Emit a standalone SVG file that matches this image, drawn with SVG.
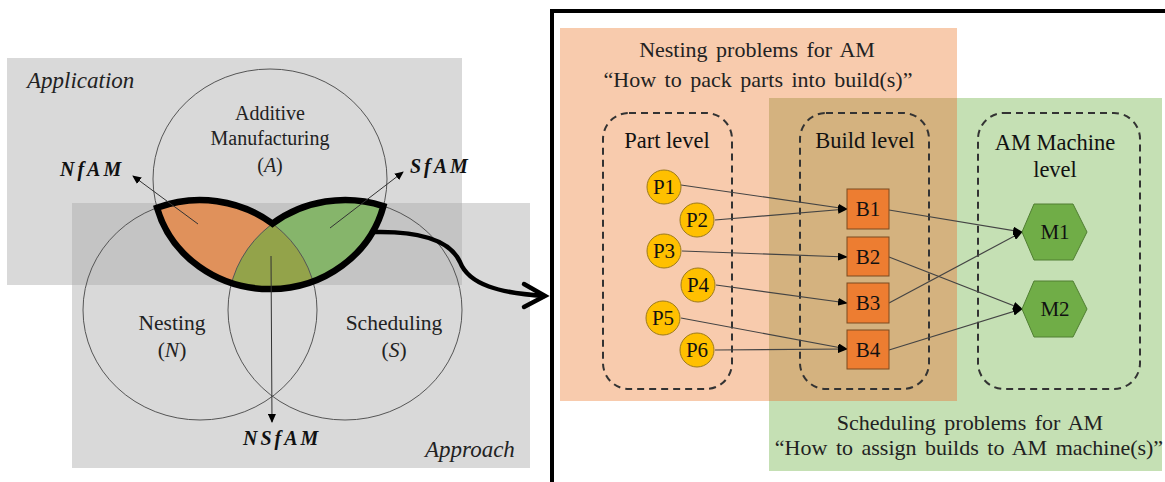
<svg xmlns="http://www.w3.org/2000/svg" width="1165" height="482" viewBox="0 0 1165 482" font-family="'Liberation Serif', 'Times New Roman', Times, 'DejaVu Serif', serif">
<style>
text{font-family:'Liberation Serif','Times New Roman',Times,'DejaVu Serif',serif;}
.t{fill:#222;}
.c{text-anchor:middle;}
.it{font-style:italic;}
.math{font-style:italic;font-weight:bold;fill:#111;}
.thin{fill:none;stroke:#555;stroke-width:1;}
.conn{fill:none;stroke:#444;stroke-width:1.2;marker-end:url(#ah);}
.dash{fill:none;stroke:#333;stroke-width:2;stroke-dasharray:7 5;}
.part{fill:#ffc000;stroke:#9c7a1d;stroke-width:1;}
.build{fill:#ed7d31;stroke:#7a4a20;stroke-width:1;}
.mach{fill:#70ad47;stroke:#507e32;stroke-width:1;}
.lbl{font-size:21px;fill:#111;text-anchor:middle;}
.lvl{font-size:22.5px;}
</style>
<defs>
<marker id="ah" markerWidth="10" markerHeight="8" refX="9" refY="4" orient="auto" markerUnits="userSpaceOnUse">
<path d="M0,0 L10,4 L0,8 Z" fill="#000"/>
</marker>
<marker id="ah2" markerWidth="9" markerHeight="8" refX="8" refY="4" orient="auto" markerUnits="userSpaceOnUse">
<path d="M0,0 L9,4 L0,8 Z" fill="#000"/>
</marker>
<clipPath id="cA"><ellipse cx="270" cy="179" rx="117" ry="110"/></clipPath>
<clipPath id="cN"><ellipse cx="200" cy="310" rx="117" ry="110"/></clipPath>
</defs>
<rect width="1165" height="482" fill="#fff"/>

<g id="venn">
<rect x="7" y="58" width="455" height="227" fill="#d9d9d9"/>
<rect x="72" y="203" width="458" height="265" fill="#d9d9d9"/>
<rect x="72" y="203" width="390" height="82" fill="#c4c4c4"/>
<ellipse cx="200" cy="310" rx="117" ry="110" fill="#e0915b" clip-path="url(#cA)"/>
<ellipse cx="345" cy="310" rx="117" ry="110" fill="#86b56b" clip-path="url(#cA)"/>
<g clip-path="url(#cA)"><ellipse cx="345" cy="310" rx="117" ry="110" fill="#93a34a" clip-path="url(#cN)"/></g>
<ellipse class="thin" cx="270" cy="179" rx="117" ry="110"/>
<ellipse class="thin" cx="200" cy="310" rx="117" ry="110"/>
<ellipse class="thin" cx="345" cy="310" rx="117" ry="110"/>
<path d="M157 207.7 A117 110 0 0 1 272.5 223.7 A117 110 0 0 1 383.4 206.1 A117 110 0 0 1 157 207.7 Z" fill="none" stroke="#000" stroke-width="6.5" stroke-linejoin="miter"/>
<text class="t it" x="27" y="88" font-size="23">Application</text>
<text class="t it" x="425" y="457" font-size="23">Approach</text>
<text class="t c" x="270" y="120" font-size="20">Additive</text>
<text class="t c" x="270" y="145" font-size="20">Manufacturing</text>
<text class="t c" x="270" y="172" font-size="20">(<tspan font-style="italic">A</tspan>)</text>
<text class="t c" x="172" y="330" font-size="21.5">Nesting</text>
<text class="t c" x="172" y="357" font-size="21.5">(<tspan font-style="italic">N</tspan>)</text>
<text class="t c" x="394" y="330" font-size="21.5">Scheduling</text>
<text class="t c" x="394" y="357" font-size="21.5">(<tspan font-style="italic">S</tspan>)</text>
<text class="math" x="60" y="176" font-size="20" letter-spacing="3">NfAM</text>
<text class="math" x="410" y="173" font-size="20" letter-spacing="3">SfAM</text>
<text class="math" x="243" y="445" font-size="20" letter-spacing="3">NSfAM</text>
</g>

<g id="panel">
<rect x="560" y="28" width="397" height="373" fill="#f8cbad"/>
<rect x="769" y="98" width="393" height="373" fill="#c5e0b4"/>
<rect x="769" y="98" width="188" height="303" fill="#d4b27f"/>
<path d="M552 484 V11 H1167" fill="none" stroke="#000" stroke-width="4"/>
<text class="t c" x="757" y="57" font-size="22" word-spacing="3">Nesting problems for AM</text>
<text class="t c" x="758" y="87" font-size="22" word-spacing="3">“How to pack parts into build(s)”</text>
<text class="t c" x="970" y="430" font-size="22" word-spacing="3">Scheduling problems for AM</text>
<text class="t c" x="969" y="455" font-size="22" word-spacing="3">“How to assign builds to AM machine(s)”</text>
</g>

<g id="part-level"><rect class="dash" x="603" y="113" width="129" height="276" rx="26"/><text class="lbl lvl" x="667" y="148">Part level</text></g>
<g id="build-level"><rect class="dash" x="800" y="113" width="129" height="276" rx="26"/><text class="lbl lvl" x="865" y="148">Build level</text></g>
<g id="machine-level"><rect class="dash" x="978" y="113" width="162" height="276" rx="26"/><text class="lbl lvl" x="1055" y="150">AM Machine</text><text class="lbl lvl" x="1055" y="177">level</text></g>

<g id="connectors">
<line class="conn" x1="681" y1="185" x2="847" y2="209"/>
<line class="conn" x1="715" y1="220" x2="847" y2="209"/>
<line class="conn" x1="682" y1="251" x2="847" y2="257"/>
<line class="conn" x1="716" y1="285" x2="847" y2="303"/>
<line class="conn" x1="681" y1="318" x2="847" y2="349"/>
<line class="conn" x1="715" y1="350" x2="847" y2="349"/>
<line class="conn" x1="889" y1="210" x2="1022" y2="232"/>
<line class="conn" x1="889" y1="257" x2="1022" y2="309"/>
<line class="conn" x1="889" y1="303" x2="1022" y2="232"/>
<line class="conn" x1="889" y1="350" x2="1022" y2="309"/>
<line x1="198" y1="224" x2="133" y2="176" stroke="#333" stroke-width="1" marker-end="url(#ah2)"/>
<line x1="330" y1="228" x2="403" y2="172" stroke="#333" stroke-width="1" marker-end="url(#ah2)"/>
<line x1="271" y1="256" x2="272" y2="422" stroke="#333" stroke-width="1" marker-end="url(#ah2)"/>
<path d="M374 232 C420 231 450 240 460 262 C469 285 500 293 544 296" fill="none" stroke="#000" stroke-width="4.5" stroke-linecap="round"/>
<polyline points="524,284 545,296 524,307" fill="none" stroke="#000" stroke-width="4.5" stroke-linecap="round" stroke-linejoin="miter"/>
</g>

<g id="P1"><circle class="part" cx="664" cy="187" r="17"/><text class="lbl" x="664" y="194">P1</text></g>
<g id="P2"><circle class="part" cx="697" cy="220" r="17"/><text class="lbl" x="697" y="227">P2</text></g>
<g id="P3"><circle class="part" cx="664" cy="251" r="17"/><text class="lbl" x="664" y="258">P3</text></g>
<g id="P4"><circle class="part" cx="698" cy="285" r="17"/><text class="lbl" x="698" y="292">P4</text></g>
<g id="P5"><circle class="part" cx="663" cy="318" r="17"/><text class="lbl" x="663" y="325">P5</text></g>
<g id="P6"><circle class="part" cx="697" cy="350" r="17"/><text class="lbl" x="697" y="357">P6</text></g>

<g id="B1"><rect class="build" x="847" y="189" width="42" height="40"/><text class="lbl" x="868" y="216">B1</text></g>
<g id="B2"><rect class="build" x="847" y="237" width="42" height="39"/><text class="lbl" x="868" y="264">B2</text></g>
<g id="B3"><rect class="build" x="847" y="283" width="42" height="40"/><text class="lbl" x="868" y="310">B3</text></g>
<g id="B4"><rect class="build" x="847" y="330" width="42" height="39"/><text class="lbl" x="868" y="357">B4</text></g>

<g id="M1"><polygon class="mach" points="1022,232 1034,204 1073,204 1087,232 1073,260 1034,260"/><text class="lbl" x="1055" y="239">M1</text></g>
<g id="M2"><polygon class="mach" points="1022,309 1034,281 1073,281 1087,309 1073,337 1034,337"/><text class="lbl" x="1055" y="316">M2</text></g>
</svg>
